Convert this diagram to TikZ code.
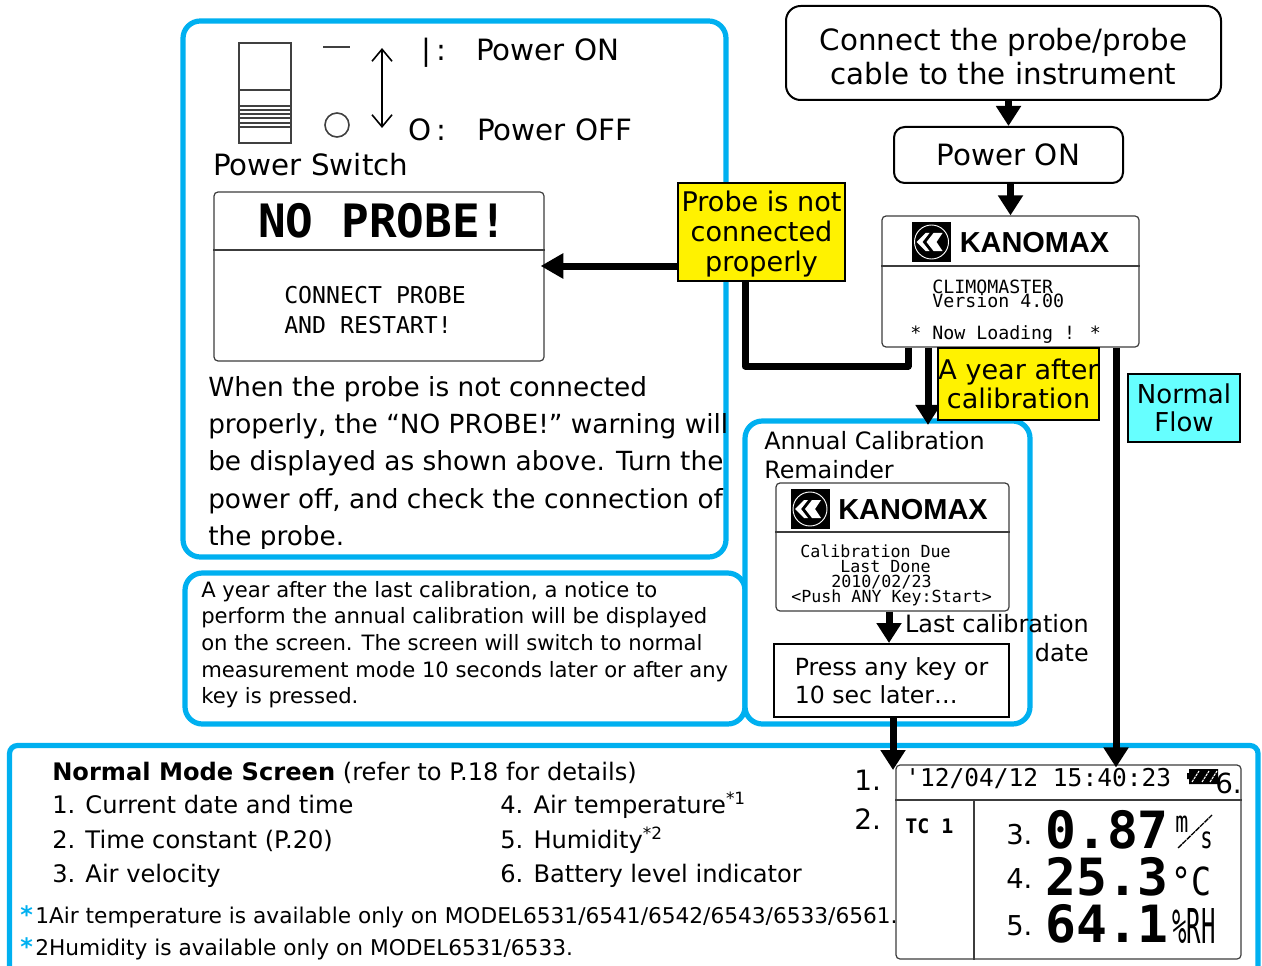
\documentclass[tikz,border=0pt]{standalone}
\usepackage{fontspec}
\setmainfont{DejaVu Sans}
\newfontfamily\lcdfont{DejaVu Sans Mono}
\newfontfamily\logofont{Liberation Sans}
\usetikzlibrary{arrows.meta}
\definecolor{panelblue}{RGB}{0,176,240}
\definecolor{flowcyan}{RGB}{102,255,255}
\definecolor{lcdline}{RGB}{60,60,60}
\newcommand{\footstar}{\makebox[11.25pt][l]{\textcolor{panelblue}{\fontsize{18}{20}\selectfont\textbf{*}}}}
\tikzset{
  panel/.style={draw=panelblue, line width=3.9pt, rounded corners=13pt},
  flow/.style={line width=5.25pt, -{Triangle[length=15pt,width=18pt]}},
  flowplain/.style={line width=5.25pt, line join=round},
  lcdbox/.style={draw=lcdline, line width=0.9pt, rounded corners=3pt, inner sep=0pt},
  lcdrule/.style={draw=lcdline, line width=0.9pt},
  stepbox/.style={draw, line width=1.5pt, inner sep=0pt, align=center},
  notebox/.style={draw, line width=1.5pt, inner sep=0pt, align=center},
  lbl/.style={anchor=base west, inner sep=0pt},
  lcdtext/.style={anchor=base west, inner sep=0pt, font=\lcdfont\fontsize{13.7}{15}\selectfont},
  switchline/.style={line width=1.1pt, draw=black!75},
  kanomax/.pic={
    \fill (-19.5,-20) rectangle (19.5,20);
    \draw[white, line width=0.7pt] (0,0) circle (17);
    \fill[white] (-15,0) -- (-6,-9) -- (-2,-9) -- (-9,0) -- (-2,9) -- (-6,9) -- cycle;
    \fill[white] (-5,0) -- (2,-9) -- (11,-9) -- (5,0) -- (11,9) -- (2,9) -- cycle;
    \node[anchor=base west, inner sep=0pt, font=\logofont\bfseries\fontsize{21.7}{24}\selectfont] at (28,10.5) {KANOMAX};
  }
}
\begin{document}
\begin{tikzpicture}[x=0.75pt, y=-0.75pt]
      \clip (0,0) rectangle (1262,966);
      \fill[white] (0,0) rectangle (1262,966);
      \draw[panel] (183,21) rectangle (726,557);
      \draw[panel] (185,573) rectangle (745,724);
      \node[panel, fill=white, minimum width=213.75pt, minimum height=227.25pt, inner sep=0pt] (panelCal) at (887.5,572.5) {};
      \draw[panel, rounded corners=6pt] (9.5,745.5) rectangle (1258,1000);
      \draw[line width=1.5pt, draw=black!75] (239,43) rectangle (291,143);
      \draw[switchline] (239,90) -- (291,90);
      \foreach \ypos in {106,110,114,118,123,127}
        \draw[switchline] (239,\ypos) -- (291,\ypos);
      \draw[switchline] (323,47) -- (350,47);
      \draw[switchline, line width=1.2pt] (337,125) circle (12);
      \coordinate (switchTop) at (382,48);
      \coordinate (switchBottom) at (382,128);
      \draw[line width=1.2pt, {Straight Barb[length=9pt,width=15pt]}-{Straight Barb[length=9pt,width=15pt]}] (switchTop) -- (switchBottom);
      \tikzset{every node/.append style={font=\fontsize{22}{28}\selectfont}}
      \node[lbl] (onBar) at (421,61) {|\,:};
      \node[lbl] (onText) at (476,61) {Power ON};
      \node[lbl] (offBar) at (408,141) {O\,:};
      \node[lbl] (offText) at (477,141) {Power OFF};
      \node[lbl] (switchText) at (213,176) {Power Switch};
      \node[lcdbox, minimum width=247.5pt, minimum height=126.75pt] (noProbe) at (379,276.5) {};
      \draw[lcdrule] (noProbe.west |- 0,250) -- (noProbe.east |- 0,250);
      \node[lbl, font=\lcdfont\bfseries\fontsize{34.5}{36}\selectfont] (noProbeTitle) at (258,238) {NO PROBE!};
      \node[lcdtext, font=\lcdfont\fontsize{17.4}{20}\selectfont] (noProbeOne) at (284,303) {CONNECT PROBE};
      \node[lcdtext, font=\lcdfont\fontsize{17.4}{20}\selectfont] (noProbeTwo) at (284,333) {AND RESTART!};
      \begin{scope}
      \clip (190,360) rectangle (740,548);
      \node[anchor=north west, inner sep=0pt, align=left, font=\fontsize{19.75}{28}\selectfont] (warnText) at (208,376) {When the probe is not connected\\properly, the “NO PROBE!” warning will\\be displayed as shown above. Turn the\\power off, and check the connection of\\the probe.};
      \end{scope}
      \node[anchor=north west, inner sep=0pt, align=left, font=\fontsize{15.85}{20}\selectfont] (noteText) at (201,581) {A year after the last calibration, a notice to\\perform the annual calibration will be displayed\\on the screen. The screen will switch to normal\\measurement mode 10 seconds later or after any\\key is pressed.};
      \node[stepbox, draw=black, rounded corners=11pt, minimum width=326.25pt, minimum height=70.5pt] (connect) at (1003.5,53) {};
      \node[inner sep=0pt, align=center, font=\fontsize{22}{26}\selectfont] (connectText) at ([yshift=-2.6pt]connect.center) {Connect the probe/probe\\cable to the instrument};
      \node[stepbox, rounded corners=8pt, minimum width=171.75pt, minimum height=42pt, font=\fontsize{22}{26}\selectfont] (powerOn) at (1008.5,155) {Power ON};
      \node[lcdbox, minimum width=192.75pt, minimum height=98.25pt] (lcdMain) at (1010.5,281.5) {};
      \draw[lcdrule] (lcdMain.west |- 0,266) -- (lcdMain.east |- 0,266);
      \pic at (931.5,242) {kanomax};
      \node[lcdtext] (mainOne) at (932,293) {CLIMOMASTER};
      \node[lcdtext] (mainTwo) at (932,307) {Version 4.00};
      \node[lcdtext] (mainThree) at (910,339) {* Now Loading ! *};
      \node[notebox, fill=yellow, minimum width=125.25pt, minimum height=73.5pt] (probeNote) at (761.5,232) {};
      \node[inner sep=0pt, align=center, font=\fontsize{20.3}{22.5}\selectfont] (probeText) at ([yshift=-1.5pt]probeNote.center) {Probe is not\\connected\\properly};
      \coordinate (probeLevel) at (0,266);
      \draw[flow, -{Triangle[length=17pt,width=18pt]}] (probeNote.west |- probeLevel) -- ([xshift=-3pt]noProbe.east |- probeLevel);
      \coordinate (probeLine) at (745,0);
      \coordinate (probeBend) at (745,366);
      \coordinate (probeTurn) at (908,366);
      \draw[flowplain] (probeTurn |- lcdMain.south) -- (probeTurn) -- (probeBend) -- (probeLine |- probeNote.south);
      \coordinate (yearLine) at (928,0);
      \coordinate (normalLine) at (1116,0);
      \coordinate (tailEnd) at (893,770);
      \node[lcdbox, fill=white, minimum width=258.75pt, minimum height=145.5pt] (lcdNormal) at (1068.5,862) {};
      \draw[lcdrule] (lcdNormal.west |- 0,800) -- (lcdNormal.east |- 0,800);
      \draw[lcdrule] (974,800) -- (lcdNormal.south -| 974,0);
      \node[lcdtext, font=\lcdfont\fontsize{18.4}{20}\selectfont] (dateText) at (905,786) {'12/04/12 15:40:23};
      \fill (1189,769) -- (1218,769) -- (1218,784) -- (1189,784) -- (1189,779) -- (1187,779) -- (1187,773) -- (1189,773) -- cycle;
      \foreach \xpos in {1192,1202,1210}
        \draw[white, line width=0.8pt, dash pattern=on 2pt off 0.7pt] (\xpos,782) -- (\xpos+7,771);
      \node[lbl, font=\fontsize{20.8}{24}\selectfont] (itemSix) at (1215,793) {6.};
      \node[lbl, font=\fontsize{21}{24}\selectfont] (itemOne) at (854,790) {1.};
      \node[lbl, font=\fontsize{21}{24}\selectfont] (itemTwo) at (854,829) {2.};
      \node[lbl, font=\lcdfont\bfseries\fontsize{15}{18}\selectfont] (tcText) at (905,833) {TC 1};
      \node[lbl, font=\fontsize{20.5}{22}\selectfont] (itemThree) at (1006,844) {3.};
      \node[lbl, font=\fontsize{20.5}{22}\selectfont] (itemFour) at (1006,888) {4.};
      \node[lbl, font=\fontsize{20.5}{22}\selectfont] (itemFive) at (1006,935) {5.};
      \node[lbl, font=\lcdfont\bfseries\fontsize{38.5}{40}\selectfont] (valueSpeed) at (1045,848) {0.87};
      \node[lbl, font=\lcdfont\bfseries\fontsize{38.5}{40}\selectfont] (valueTemp) at (1045,895) {25.3};
      \node[lbl, font=\lcdfont\bfseries\fontsize{38.5}{40}\selectfont] (valueHum) at (1045,942) {64.1};
      \node[lbl, font=\lcdfont\fontsize{13}{15}\selectfont] (unitM) at (1175,832) {\scalebox{1.25}[1.7]{m}};
      \draw[line width=1pt, dash pattern=on 4pt off 0.6pt] (1178,848) -- (1212,815);
      \node[lbl, font=\lcdfont\fontsize{14}{15}\selectfont] (unitS) at (1200,848) {\scalebox{1.1}[1.6]{s}};
      \node[lbl, font=\lcdfont\fontsize{29}{32}\selectfont] (unitC) at (1171,895) {\scalebox{0.86}[1]{°C}};
      \node[lbl, font=\lcdfont\fontsize{25}{30}\selectfont] (unitRH) at (1172,943) {\scalebox{0.72}[1.44]{\%RH}};
      \node[lbl, font=\fontsize{18.1}{20}\selectfont] (modeTitle) at (52,780) {\textbf{Normal Mode Screen} (refer to P.18 for details)};
      \node[lbl, font=\fontsize{18.1}{20}\selectfont] (modeOne) at (52,813) {1. Current date and time};
      \node[lbl, font=\fontsize{18.1}{20}\selectfont] (modeTwo) at (52,848) {2. Time constant (P.20)};
      \node[lbl, font=\fontsize{18.1}{20}\selectfont] (modeThree) at (52,882) {3. Air velocity};
      \node[lbl, font=\fontsize{18.1}{20}\selectfont] (modeFour) at (500,813) {4. Air temperature\textsuperscript{*1}};
      \node[lbl, font=\fontsize{18.1}{20}\selectfont] (modeFive) at (500,848) {5. Humidity\textsuperscript{*2}};
      \node[lbl, font=\fontsize{18.1}{20}\selectfont] (modeSix) at (500,882) {6. Battery level indicator};
      \node[lbl, font=\fontsize{16.27}{20}\selectfont] (footOne) at (20,923) {\footstar 1Air temperature is available only on MODEL6531/6541/6542/6543/6533/6561.};
      \node[lbl, font=\fontsize{16.27}{20}\selectfont] (footTwo) at (20,955) {\footstar 2Humidity is available only on MODEL6531/6533.};
      \node[anchor=north west, inner sep=0pt, align=left, font=\fontsize{17.9}{21.6}\selectfont] (calTitle) at (764,431) {Annual Calibration\\Remainder};
      \node[lcdbox, fill=white, minimum width=174.75pt, minimum height=96pt] (lcdCal) at (892.5,547) {};
      \draw[lcdrule] (lcdCal.west |- 0,532) -- (lcdCal.east |- 0,532);
      \pic at (810,509) {kanomax};
      \node[lcdtext, font=\lcdfont\fontsize{12.5}{15}\selectfont] (calOne) at (800,557) {Calibration Due};
      \node[lcdtext, font=\lcdfont\fontsize{12.5}{15}\selectfont] (calTwo) at (840,572) {Last Done};
      \node[lcdtext, font=\lcdfont\fontsize{12.5}{15}\selectfont] (calThree) at (831,587) {2010/02/23};
      \node[lcdtext, font=\lcdfont\fontsize{12.5}{15}\selectfont] (calFour) at (791,602) {<Push ANY Key:Start>};
      \node[stepbox, draw=black, minimum width=176.25pt, minimum height=54.75pt, align=left, font=\fontsize{17.7}{21}\selectfont] (pressKey) at (891.5,680.5) {Press any key or\\10 sec later\dots};
      \node[anchor=north east, inner sep=0pt, align=right, font=\fontsize{17.9}{21.7}\selectfont] (lastCal) at (1089,614) {Last calibration\\date};
      \draw[flow] (powerOn.north |- connect.south) -- (powerOn.north);
      \draw[flow] (lcdMain.north |- powerOn.south) -- (lcdMain.north);
      \draw[flow, shorten >=-4.9pt] (yearLine |- lcdMain.south) -- (yearLine |- panelCal.north);
      \draw[flow] (lcdCal.south -| 889,0) -- (pressKey.north -| 889,0);
      \draw[flow] (tailEnd |- pressKey.south) -- (tailEnd);
      \draw[flow, shorten >=-2.3pt] (normalLine |- lcdMain.south) -- (normalLine |- lcdNormal.north);
      \node[notebox, fill=yellow, minimum width=120.75pt, minimum height=54pt, font=\fontsize{20.3}{22}\selectfont] (yearNote) at (1018.5,384) {A year after\\calibration};
      \node[notebox, fill=flowcyan, minimum width=84pt, minimum height=51pt, font=\fontsize{19.5}{21}\selectfont] (normalNote) at (1184,408) {Normal\\Flow};
\end{tikzpicture}
\end{document}
